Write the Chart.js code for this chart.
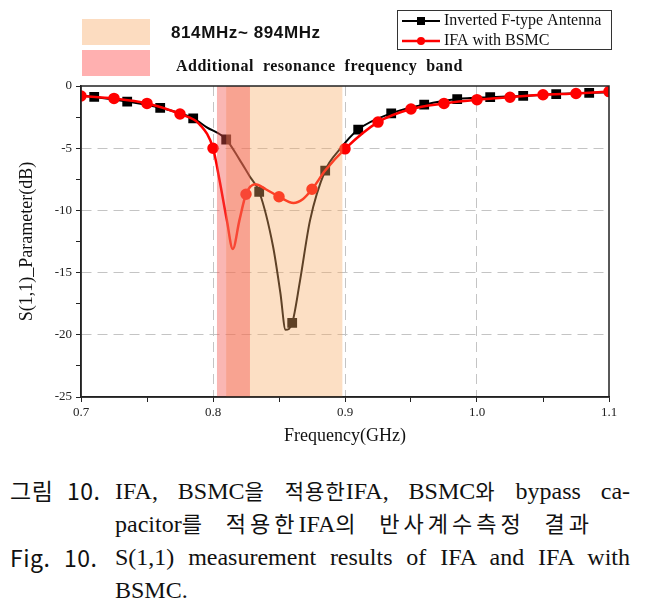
<!DOCTYPE html>
<html>
<head>
<meta charset="utf-8">
<script src="https://cdn.jsdelivr.net/npm/chart.js@4.4.1/dist/chart.umd.min.js"></script>
<style>
  body { margin: 0; background: #fff; width: 648px; height: 613px; position: relative; overflow: hidden; }
  #wrap { position: absolute; left: 0; top: 0; width: 648px; height: 452px; }
  .cap { position: absolute; font-family: "Liberation Serif", "Noto Sans CJK KR", serif; font-size: 24px; color: #111; line-height: 30px; white-space: nowrap; }
  .just { text-align: justify; text-align-last: justify; white-space: normal; }
  .lab { font-family: "Noto Sans CJK KR", "Liberation Sans", sans-serif; font-size: 23px; word-spacing: 8px; letter-spacing: 0.5px; }
  .k { font-family: "Noto Sans CJK KR", sans-serif; font-size: 21px; letter-spacing: 1px; }
  .k2 { font-family: "Noto Sans CJK KR", sans-serif; font-size: 22px; letter-spacing: 4px; }
</style>
</head>
<body>
<div id="wrap"><canvas id="chart" width="648" height="452"></canvas></div>

<div class="cap lab" style="left:10px; top:475px;">그림 10.</div>
<div class="cap just" style="left:115px; top:475px; width:515px;">IFA, BSMC<span class="k">을</span> <span class="k">적용한</span>IFA, BSMC<span class="k">와</span> bypass ca-</div>
<div class="cap just" style="left:115px; top:507px; width:478px;">pacitor<span class="k2">를</span> <span class="k2">적용한</span>IFA<span class="k2">의</span> <span class="k2">반사계수측정</span> <span class="k2">결과</span></div>
<div class="cap lab" style="left:10px; top:542px;">Fig. 10.</div>
<div class="cap just" style="left:115px; top:542px; width:515px;">S(1,1) measurement results of IFA and IFA with</div>
<div class="cap" style="left:115px; top:575px;">BSMC.</div>

<script>
// S(1,1) of plain IFA (black squares)
const ifaFreq = [0.70, 0.71, 0.735, 0.76, 0.785, 0.795, 0.81, 0.82, 0.828, 0.835, 0.8455, 0.851, 0.855, 0.86, 0.866, 0.8735, 0.885, 0.896, 0.91, 0.935, 0.96, 0.985, 1.01, 1.035, 1.06, 1.085, 1.10];
const ifaS11 = [-0.78, -0.88, -1.25, -1.75, -2.6, -3.3, -4.3, -5.9, -7.3, -8.5, -12.9, -16.6, -19.6, -19.05, -15.6, -10.8, -6.8, -5.1, -3.5, -2.2, -1.5, -1.05, -0.9, -0.8, -0.65, -0.55, -0.5];
const ifaMarks = [0.71, 0.735, 0.76, 0.785, 0.81, 0.835, 0.86, 0.885, 0.91, 0.935, 0.96, 0.985, 1.01, 1.035, 1.06, 1.085];

// S(1,1) of IFA with BSMC (red dots)
const bsmcFreq = [0.70, 0.725, 0.75, 0.775, 0.79, 0.80, 0.805, 0.8105, 0.815, 0.82, 0.825, 0.832, 0.84, 0.85, 0.861, 0.868, 0.875, 0.885, 0.90, 0.925, 0.95, 0.975, 1.0, 1.025, 1.05, 1.075, 1.10];
const bsmcS11 = [-0.8, -1.0, -1.4, -2.25, -3.1, -5.0, -7.6, -10.8, -13.1, -10.8, -8.7, -7.9, -8.3, -8.9, -9.4, -9.1, -8.3, -6.8, -5.05, -2.9, -1.85, -1.4, -1.1, -0.9, -0.7, -0.6, -0.45];
const bsmcMarks = [0.70, 0.725, 0.75, 0.775, 0.80, 0.825, 0.85, 0.875, 0.90, 0.925, 0.95, 0.975, 1.0, 1.025, 1.05, 1.075, 1.10];

// shaded bands (GHz)
const bandMain = [0.810, 0.898];
const bandExtra = [0.803, 0.828];

const seriesNames = ['Inverted F-type Antenna', 'IFA with BSMC'];
const seriesColors = ['#000000', '#ff0000'];

const toPoints = (xs, ys) => xs.map((x, i) => ({ x: x, y: ys[i] }));
const isMark = (list, x) => list.some(m => Math.abs(m - x) < 1e-6);

const bandsPlugin = {
    id: 'bands',
    afterDatasetsDraw(chart) {
        const { ctx, chartArea: a, scales: { x } } = chart;
        ctx.save();
        let l = x.getPixelForValue(bandMain[0]);
        let r = x.getPixelForValue(bandMain[1]);
        ctx.fillStyle = 'rgba(248,170,100,0.38)';
        ctx.fillRect(l, a.top, r - l, a.bottom - a.top);
        l = x.getPixelForValue(bandExtra[0]);
        r = x.getPixelForValue(bandExtra[1]);
        ctx.fillStyle = 'rgba(242,80,75,0.42)';
        ctx.fillRect(l, a.top, r - l, a.bottom - a.top);
        // frame around plot
        ctx.strokeStyle = '#222';
        ctx.lineWidth = 1.5;
        ctx.strokeRect(a.left, a.top, a.right - a.left, a.bottom - a.top);
        ctx.restore();
    }
};

const headerPlugin = {
    id: 'header',
    afterDraw(chart) {
        const ctx = chart.ctx;
        ctx.save();
        ctx.textBaseline = 'middle';
        // band keys
        ctx.fillStyle = '#fcdcc0';
        ctx.fillRect(82, 19, 68, 26);
        ctx.fillStyle = '#ffb0b0';
        ctx.fillRect(82, 50, 68, 26);
        ctx.fillStyle = '#111';
        ctx.letterSpacing = '0.6px';
        ctx.font = 'bold 17px "Liberation Sans", Arial, sans-serif';
        ctx.fillText('814MHz~ 894MHz', 171, 33);
        ctx.letterSpacing = '0.5px';
        ctx.font = 'bold 16px "Liberation Serif", serif';
        ctx.fillText('Additional  resonance  frequency  band', 176, 67);
        ctx.letterSpacing = '0px';

        // legend box
        ctx.strokeStyle = '#333';
        ctx.lineWidth = 1;
        ctx.strokeRect(397.5, 10.5, 214, 39);
        ctx.font = '16px "Liberation Serif", serif';
        const rows = [21, 41];
        rows.forEach((y, i) => {
            ctx.strokeStyle = seriesColors[i];
            ctx.fillStyle = seriesColors[i];
            ctx.lineWidth = i === 0 ? 2 : 2.5;
            ctx.beginPath();
            ctx.moveTo(402, y);
            ctx.lineTo(440, y);
            ctx.stroke();
            if (i === 0) {
                ctx.fillRect(417, y - 4, 8, 8);
            } else {
                ctx.beginPath();
                ctx.arc(421, y, 4, 0, Math.PI * 2);
                ctx.fill();
            }
            ctx.fillStyle = '#111';
            ctx.fillText(seriesNames[i], 444, y);
        });
        ctx.restore();
    }
};

const tickFont = { family: '"Liberation Serif", serif', size: 13 };

new Chart(document.getElementById('chart').getContext('2d'), {
    type: 'line',
    data: {
        datasets: [
            {
                label: seriesNames[0],
                data: toPoints(ifaFreq, ifaS11),
                borderColor: seriesColors[0],
                backgroundColor: seriesColors[0],
                borderWidth: 2,
                pointStyle: 'rect',
                pointRadius: ctx => isMark(ifaMarks, ctx.raw.x) ? 5.5 : 0,
                cubicInterpolationMode: 'monotone',
                tension: 0.4,
                fill: false,
                order: 2
            },
            {
                label: seriesNames[1],
                data: toPoints(bsmcFreq, bsmcS11),
                borderColor: seriesColors[1],
                backgroundColor: seriesColors[1],
                borderWidth: 2.5,
                pointStyle: 'circle',
                pointRadius: ctx => isMark(bsmcMarks, ctx.raw.x) ? 4.5 : 0,
                cubicInterpolationMode: 'monotone',
                tension: 0.4,
                fill: false,
                order: 1
            }
        ]
    },
    options: {
        responsive: false,
        animation: false,
        events: [],
        layout: { padding: { top: 86, right: 39, left: 0, bottom: 0 } },
        plugins: {
            legend: { display: false },
            tooltip: { enabled: false }
        },
        scales: {
            x: {
                type: 'linear',
                min: 0.7,
                max: 1.1,
                afterFit: s => { s.height = 55; },
                ticks: {
                    stepSize: 0.05,
                    autoSkip: false,
                    maxRotation: 0,
                    padding: 3,
                    color: '#222',
                    font: tickFont,
                    callback: v => {
                        const n = Math.round(v * 100);
                        return n % 10 === 0 ? (n / 100).toFixed(1) : '';
                    }
                },
                grid: {
                    color: c => {
                        const n = Math.round(c.tick.value * 100);
                        return (n % 10 === 0 && n > 70 && n < 110) ? '#c4c4c4' : 'rgba(0,0,0,0)';
                    },
                    tickColor: '#222',
                    tickLength: 5
                },
                border: { color: '#222', width: 1.5, dash: [10, 6] },
                title: {
                    display: true,
                    text: 'Frequency(GHz)',
                    color: '#111',
                    font: { family: '"Liberation Serif", serif', size: 18 },
                    padding: { top: 0, bottom: 5 }
                }
            },
            y: {
                min: -25,
                max: 0,
                afterFit: s => { s.width = 81; },
                ticks: {
                    stepSize: 2.5,
                    padding: 4,
                    color: '#222',
                    font: tickFont,
                    callback: v => (Math.round(v * 10) % 50 === 0 ? String(v) : '')
                },
                grid: {
                    color: c => {
                        const v = c.tick.value;
                        return (v % 5 === 0 && v < 0 && v > -25) ? '#c4c4c4' : 'rgba(0,0,0,0)';
                    },
                    tickColor: '#222',
                    tickLength: 5
                },
                border: { color: '#222', width: 1.5, dash: [10, 6] },
                title: {
                    display: true,
                    text: 'S(1,1)_Parameter(dB)',
                    color: '#111',
                    font: { family: '"Liberation Serif", serif', size: 18 },
                    padding: { top: 16, bottom: 0 }
                }
            }
        }
    },
    plugins: [bandsPlugin, headerPlugin]
});
</script>
</body>
</html>
